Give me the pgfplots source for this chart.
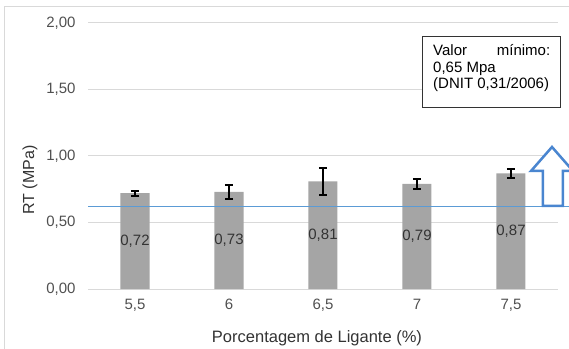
\documentclass[border=0pt]{standalone}
\usepackage{fontspec}
\setmainfont{Liberation Sans}
\usepackage{pgfplots}
\pgfplotsset{compat=1.18}
\definecolor{barg}{HTML}{A5A5A5}
\definecolor{gridg}{HTML}{D9D9D9}
\definecolor{tickc}{HTML}{505050}
\definecolor{labc}{HTML}{333333}
\definecolor{lineb}{HTML}{5B9BD5}
\definecolor{arrowb}{HTML}{4A86D0}
\begin{document}
\begin{tikzpicture}
\clip (-88bp,-60bp) rectangle (481bp,289bp);
\useasboundingbox (-88bp,-60bp) rectangle (481bp,289bp);
\begin{scope}[x=1bp,y=-1bp,shift={(-88bp,289bp)}]
\draw[gridg, line width=1bp] (5,360) -- (5,7) -- (600,7);
\end{scope}
\begin{axis}[at={(0,0)}, anchor=south west, scale only axis,
  width=470bp, height=266bp,
  xmin=-0.5, xmax=4.5, ymin=0, ymax=2,
  ytick={0,0.5,1,1.5,2},
  xtick={0,1,2,3,4},
  xticklabels={{5,5},{6},{6,5},{7},{7,5}},
  axis line style={draw=none},
  major tick style={draw=none},
  ymajorgrids, grid style={gridg, line width=1bp},
  clip=false,
  /pgf/number format/assume math mode=true,
  /pgf/number format/use comma,
  /pgf/number format/fixed,
  /pgf/number format/fixed zerofill,
  /pgf/number format/precision=2,
  ticklabel style={font=\fontsize{15bp}{18bp}\selectfont, text=tickc},
  xticklabel style={yshift=-7bp},
  yticklabel style={xshift=-9bp},
]
\addplot[ybar, bar width=29bp, fill=barg, draw=none,
  error bars/.cd, y dir=both, y explicit,
  error bar style={line width=2bp, black},
  error mark options={rotate=90, line width=2bp, mark size=4bp, black}]
  coordinates {(0,0.72) +- (0,0.02) (1,0.73) +- (0,0.05) (2,0.81) +- (0,0.10) (3,0.79) +- (0,0.04) (4,0.87) +- (0,0.035)};
\addplot[draw=none, mark=none, nodes near coords, point meta=explicit symbolic,
  every node near coord/.style={anchor=center, font=\fontsize{15bp}{18bp}\selectfont, text=labc}]
  coordinates {(0,0.36)[0,72] (1,0.365)[0,73] (2,0.405)[0,81] (3,0.395)[0,79] (4,0.435)[0,87]};
\addplot[lineb, line width=1bp] coordinates {(-0.5,0.62) (4.8,0.62)};
\end{axis}
\begin{scope}[x=1bp,y=-1bp,shift={(-88bp,289bp)}]
\draw[arrowb, line width=2.5bp, fill=white, miter limit=10] (552,147) -- (531,171) -- (543,171) -- (543,206) -- (563,206) -- (563,171) -- (573,171) -- cycle;
\draw[labc, line width=1bp, fill=white] (423,37) rectangle (561,108);
\begin{scope}[every node/.style={anchor=base west, inner sep=0, font=\fontsize{15bp}{18bp}\selectfont, text=black}]
\node at (433,56) {\hbox to 117bp{Valor\hfill mínimo:}};
\node at (433,72.5) {0,65 Mpa};
\node at (433,89) {(DNIT 0,31/2006)};
\end{scope}
\node[rotate=90, font=\fontsize{16bp}{19bp}\selectfont, text=labc] at (30,180) {RT (MPa)};
\node[font=\fontsize{16.5bp}{19bp}\selectfont, text=labc] at (317,338) {Porcentagem de Ligante (\%)};
\end{scope}
\end{tikzpicture}
\end{document}
